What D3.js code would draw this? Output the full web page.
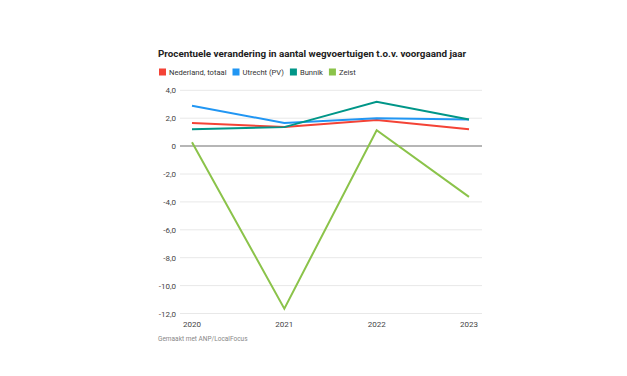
<!DOCTYPE html>
<html>
<head>
<meta charset="utf-8">
<script src="https://cdn.jsdelivr.net/npm/d3@7"></script>
<style>
  body { margin: 0; background: #fff; font-family: Roboto, "Noto Sans", sans-serif; }
</style>
</head>
<body>
<svg id="chart" width="627" height="376"></svg>
<script>
const years = ["2020", "2021", "2022", "2023"];
const nederland = [1.65, 1.37, 1.87, 1.21];
const utrecht = [2.9, 1.65, 2.0, 1.91];
const bunnik = [1.21, 1.36, 3.18, 1.91];
const zeist = [0.28, -11.65, 1.14, -3.64];
const yTicks = [4, 2, 0, -2, -4, -6, -8, -10, -12];

const series = [
  { name: "Nederland, totaal", values: nederland, color: "#f44336" },
  { name: "Utrecht (PV)", values: utrecht, color: "#2196f3" },
  { name: "Bunnik", values: bunnik, color: "#009688" },
  { name: "Zeist", values: zeist, color: "#8bc34a" },
];

const svg = d3.select("#chart");

svg.append("text")
  .attr("x", 158)
  .attr("y", 57)
  .attr("fill", "#222")
  .style("font-size", "9.8px")
  .style("font-weight", "bold")
  .text("Procentuele verandering in aantal wegvoertuigen t.o.v. voorgaand jaar");

// legend
const legend = svg.append("g").attr("transform", "translate(159,72)");
let lx = 0;
series.forEach((s) => {
  const item = legend.append("g").attr("transform", `translate(${lx},0)`);
  item.append("rect")
    .attr("x", 0).attr("y", -3.5)
    .attr("width", 7).attr("height", 7)
    .attr("fill", s.color);
  const t = item.append("text")
    .attr("x", 10).attr("y", 2.7)
    .attr("fill", "#333")
    .style("font-size", "7.6px")
    .text(s.name);
  lx += 10 + t.node().getComputedTextLength() + 6;
});

const x = d3.scalePoint().domain(years).range([192, 469]);
const y = d3.scaleLinear().domain([-12, 4]).range([313.5, 90.3]);

const grid = svg.append("g");
grid.selectAll("line")
  .data(yTicks)
  .enter()
  .append("line")
  .attr("x1", 180).attr("x2", 482)
  .attr("y1", (d) => y(d)).attr("y2", (d) => y(d))
  .attr("stroke", (d) => (d === 0 ? "#9e9e9e" : "#e8e8e8"))
  .attr("stroke-width", (d) => (d === 0 ? 1.5 : 1));

const fmt = (d) => (d === 0 ? "0" : d3.format(".1f")(d).replace(".", ",").replace("−", "-"));

svg.append("g")
  .selectAll("text")
  .data(yTicks)
  .enter()
  .append("text")
  .attr("x", 176)
  .attr("y", (d) => y(d) + 3)
  .attr("text-anchor", "end")
  .attr("fill", "#444")
  .style("font-size", "8px")
  .text(fmt);

svg.append("g")
  .selectAll("text")
  .data(years)
  .enter()
  .append("text")
  .attr("x", (d, i) => x(d) + (i === 0 ? -9 : 0))
  .attr("y", 327)
  .attr("text-anchor", (d, i) => (i === 0 ? "start" : "middle"))
  .attr("fill", "#444")
  .style("font-size", "8px")
  .text((d) => d);

const line = d3.line()
  .x((d, i) => x(years[i]))
  .y((d) => y(d));

svg.append("g")
  .selectAll("path")
  .data(series)
  .enter()
  .append("path")
  .attr("d", (s) => line(s.values))
  .attr("fill", "none")
  .attr("stroke", (s) => s.color)
  .attr("stroke-width", 2);

svg.append("text")
  .attr("x", 158)
  .attr("y", 340.5)
  .attr("fill", "#888")
  .style("font-size", "6.5px")
  .text("Gemaakt met ANP/LocalFocus");
</script>
</body>
</html>
